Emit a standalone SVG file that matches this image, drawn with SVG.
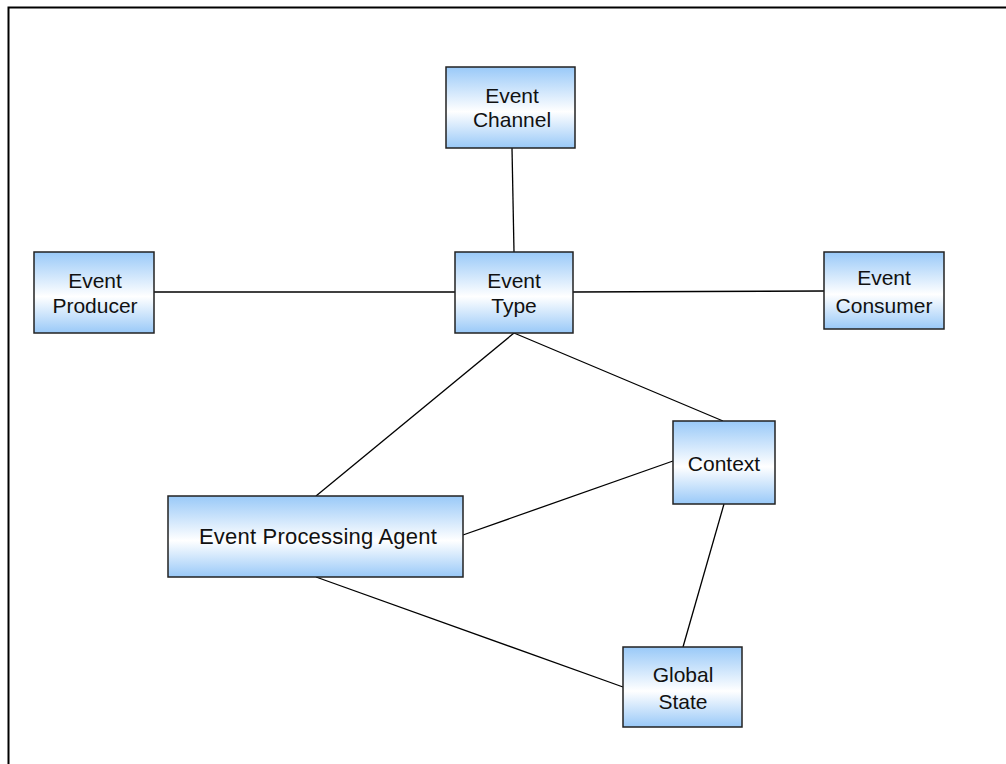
<svg xmlns="http://www.w3.org/2000/svg" width="1006" height="764" viewBox="0 0 1006 764">
<defs>
<linearGradient id="g" x1="0" y1="0" x2="0" y2="1">
<stop offset="0" stop-color="#99c9f8"/>
<stop offset="0.55" stop-color="#ffffff"/>
<stop offset="1" stop-color="#99c9f8"/>
</linearGradient>
<style>
.box{fill:url(#g);stroke:#222;stroke-width:1.5}
.t{font-family:"Liberation Sans",Arial,sans-serif;font-size:21px;fill:#111;text-anchor:middle}
.c line{stroke:#000;stroke-width:1.3}
</style>
</defs>
<rect width="1006" height="764" fill="#fff"/>
<path d="M8.5 764 V7.5 H1006" fill="none" stroke="#000" stroke-width="2"/>
<g class="c" id="connectors">
<line x1="512" y1="148" x2="514" y2="252"/>
<line x1="154" y1="292" x2="455" y2="292"/>
<line x1="573" y1="292" x2="824" y2="291"/>
<line x1="514" y1="333" x2="723" y2="421"/>
<line x1="514" y1="333" x2="316" y2="496"/>
<line x1="463" y1="535" x2="673" y2="461"/>
<line x1="724" y1="504" x2="683" y2="647"/>
<line x1="316" y1="577" x2="623" y2="687"/>
</g>
<g id="channel"><rect class="box" x="446" y="67" width="129" height="81"/><text class="t" x="512" y="103">Event</text><text class="t" x="512" y="127">Channel</text></g>
<g id="type"><rect class="box" x="455" y="252" width="118" height="81"/><text class="t" x="514" y="288">Event</text><text class="t" x="514" y="313">Type</text></g>
<g id="producer"><rect class="box" x="34" y="252" width="120" height="81"/><text class="t" x="95" y="288">Event</text><text class="t" x="95" y="313">Producer</text></g>
<g id="consumer"><rect class="box" x="824" y="252" width="120" height="77"/><text class="t" x="884" y="285">Event</text><text class="t" x="884" y="313">Consumer</text></g>
<g id="epa"><rect class="box" x="168" y="496" width="295" height="81"/><text class="t" x="318" y="544" style="font-size:22px;letter-spacing:0.2px">Event Processing Agent</text></g>
<g id="context"><rect class="box" x="673" y="421" width="102" height="83"/><text class="t" x="724" y="471">Context</text></g>
<g id="global"><rect class="box" x="623" y="647" width="119" height="80"/><text class="t" x="683" y="682">Global</text><text class="t" x="683" y="709">State</text></g>
</svg>
